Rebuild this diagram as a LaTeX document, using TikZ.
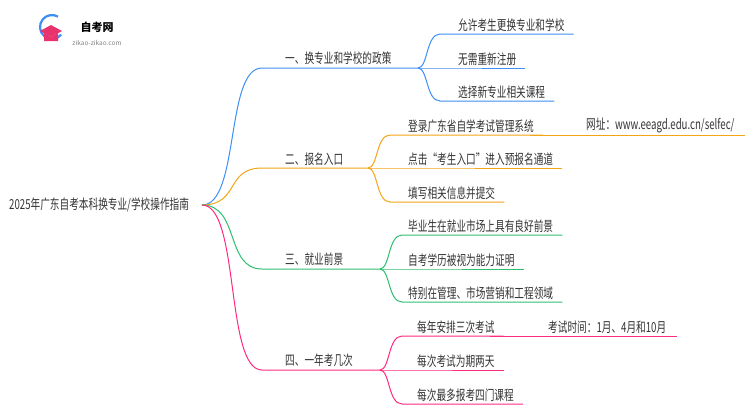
\documentclass[tikz,border=0pt]{standalone}
\usepackage{fontspec}
\setmainfont[FakeStretch=0.7]{Noto Sans CJK SC}
\newfontfamily\plainf{Noto Sans CJK SC}
\begin{document}
\begin{tikzpicture}[x=1pt,y=-1pt,
  t/.style={anchor=south west,inner sep=1pt,text=black!80,font=\fontsize{13.8}{15}\selectfont},
  br/.style={line width=1pt}]
\useasboundingbox (0,0) rectangle (750,410);
\definecolor{cb}{HTML}{3D8EF5}\definecolor{co}{HTML}{F2A515}
\definecolor{cg}{HTML}{2DBE6E}\definecolor{cp}{HTML}{FF2A7F}\definecolor{cr}{HTML}{E8336D}
% logo
\draw[cb,line width=2.2pt] (52,27) ++(40:12) arc[start angle=40,end angle=300,radius=12];
\fill[cr] (40,31) -- (51,25) -- (62,31) -- (51,37) -- cycle;
\fill[cr] (44,33) -- (51,37) -- (58,33) -- (58,41) -- (44,41) -- cycle;
\node[font=\plainf\bfseries\fontsize{11}{12}\selectfont] (logo) at (97,27) {自考网};
\node[font=\plainf\fontsize{6.5}{7}\selectfont,text=gray] (url) at (97,43) {zikao-zikao.com};
% root
\node[t,anchor=west] (root) at (8,205) {2025年广东自考本科换专业/学校操作指南};
\coordinate (R) at (202,205);
% level 1
\node[t] (b1) at (284,66) {一、换专业和学校的政策};
\node[t] (b2) at (284,167) {二、报名入口};
\node[t] (b3) at (284,267) {三、就业前景};
\node[t] (b4) at (284,368) {四、一年考几次};
\draw[cb,br] (R) .. controls (240,205) and (225,68) .. (262,68) -- (418,68);
\draw[co,br] (R) .. controls (240,205) and (225,168) .. (262,168) -- (368,168);
\draw[cg,br] (R) .. controls (240,205) and (225,269) .. (262,269) -- (380,269);
\draw[cp,br] (R) .. controls (240,205) and (225,370) .. (262,370) -- (380,370);
% children
\foreach \c/\px/\py/\off/\list in {
  cb/418/68/39/{34/允许考生更换专业和学校,68/无需重新注册,101/选择新专业相关课程},
  co/368/168/39/{135/登录广东省自学考试管理系统,168/点击“考生入口”进入预报名通道,202/填写相关信息并提交},
  cg/380/269/27/{235/毕业生在就业市场上具有良好前景,269/自考学历被视为能力证明,302/特别在管理、市场营销和工程领域},
  cp/380/370/36/{336/每年安排三次考试,370/每次考试为期两天,404/每次最多报考四门课程}}{
  \foreach \y/\txt in \list {
    \node[t] (n) at (\px+\off,\y-1) {\txt};
    \draw[\c,line width=1pt] (\px,\py) .. controls (\px+10,\py) and (\px+8,\y) .. (\px+22,\y) -- ([xshift=8pt]n.south east|-0,\y);
  }
}
% grandchildren
\node[t] (g1) at (585,134) {网址：www.eeagd.edu.cn/selfec/};
\draw[co,line width=1pt] (530,135) -- (745,135);
\node[t] (g2) at (547,335) {考试时间：1月、4月和10月};
\draw[cp,line width=1pt] (490,336) -- (677,336);
\end{tikzpicture}
\end{document}
